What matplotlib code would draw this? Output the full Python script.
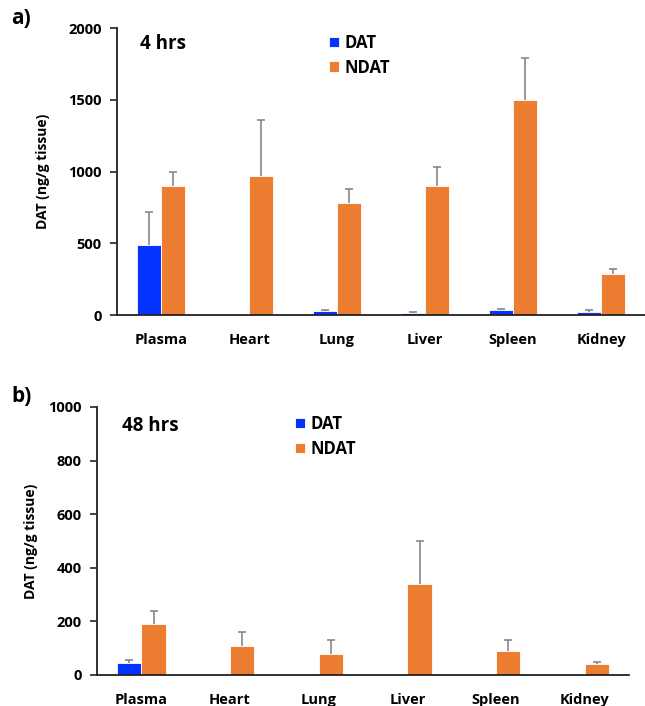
import matplotlib
matplotlib.use("Agg")
import matplotlib.pyplot as plt
import numpy as np

tissues = ["Plasma", "Heart", "Lung", "Liver", "Spleen", "Kidney"]

# 4 hrs
dat_4h = [485, 3, 28, 14, 33, 21]
dat_4h_err = [230, 0, 7, 7, 11, 14]
ndat_4h = [900, 970, 780, 900, 1500, 288]
ndat_4h_err = [100, 390, 100, 130, 290, 33]

# 48 hrs
dat_48h = [44, 2, 1, 0, 0, 0]
dat_48h_err = [13, 0, 0, 0, 0, 0]
ndat_48h = [189, 110, 80, 340, 90, 40]
ndat_48h_err = [51, 49, 51, 159, 41, 10]

plt.rcParams['font.family'] = ['Open Sans', 'DejaVu Sans']
plt.rcParams['font.weight'] = 'bold'

blue = '#0433FF'
orange = '#ED7D31'
W, H = 645, 706

fig = plt.figure(figsize=(W / 100, H / 100), dpi=100)


def up_err(ax, xs, ys, errs):
    # only the upper half of the error bar, as in the original
    xs, ys, errs = np.asarray(xs), np.asarray(ys), np.asarray(errs)
    keep = errs > 0
    eb = ax.errorbar(xs[keep], ys[keep], yerr=[np.zeros(keep.sum()), errs[keep]],
                     fmt='none', ecolor='#7f7f7f', elinewidth=1.1, capsize=3,
                     capthick=1.1, zorder=3)
    eb.lines[1][0].set_visible(False)


def panel(rect, dat, dat_err, ndat, ndat_err, ymax, step, title, title_xy, leg_xy,
          tag, tag_xy, ylab_x, xpad):
    ax = fig.add_axes([rect[0] / W, 1 - rect[3] / H, (rect[2] - rect[0]) / W,
                       (rect[3] - rect[1]) / H])
    x = np.arange(len(tissues))
    bw = 0.275
    ax.bar(x - bw / 2, dat, bw, color=blue, edgecolor='white', linewidth=0.6, label='DAT')
    ax.bar(x + bw / 2, ndat, bw, color=orange, edgecolor='white', linewidth=0.6, label='NDAT')
    up_err(ax, x - bw / 2, dat, dat_err)
    up_err(ax, x + bw / 2, ndat, ndat_err)
    ax.set_xlim(-0.5, len(tissues) - 0.5)
    ax.set_ylim(0, ymax)
    ax.set_yticks(np.arange(0, ymax + 1, step))
    ax.set_xticks(x)
    ax.set_xticklabels(tissues, fontsize=10.5, fontweight='bold')
    ax.tick_params(axis='x', length=0, pad=xpad)
    ax.tick_params(axis='y', length=5, width=1.2, labelsize=10.5, pad=6, color='#222222')
    for lbl in ax.get_yticklabels():
        lbl.set_fontweight('bold')
    for s in ['top', 'right']:
        ax.spines[s].set_visible(False)
    for s in ['left', 'bottom']:
        ax.spines[s].set_linewidth(1.3)
        ax.spines[s].set_color('#222222')
    ax.spines['left'].set_zorder(5)
    ax.set_ylabel('DAT (ng/g tissue)', fontsize=10, fontweight='bold')
    ax.yaxis.set_label_coords((ylab_x - rect[0]) / (rect[2] - rect[0]), 0.5)
    fig.text(title_xy[0] / W, 1 - title_xy[1] / H, title, fontsize=13.5,
             fontweight='bold', va='center', ha='left')
    ax.legend(loc='upper left',
              bbox_to_anchor=((leg_xy[0] - rect[0]) / (rect[2] - rect[0]),
                              1 - (leg_xy[1] - rect[1]) / (rect[3] - rect[1])),
              frameon=False, handlelength=0.6, handleheight=0.6,
              handletextpad=0.35, labelspacing=0.4, borderaxespad=0, borderpad=0,
              prop={'weight': 'bold', 'size': 12})
    fig.text(tag_xy[0] / W, 1 - tag_xy[1] / H, tag, fontsize=15, fontweight='bold',
             va='center', ha='left')
    return ax


panel((117, 28, 645, 315), dat_4h, dat_4h_err, ndat_4h, ndat_4h_err, 2000, 500,
      '4 hrs', (140, 44), (329, 34), 'a)', (11, 19), 50, 13)
panel((97, 407, 629, 675), dat_48h, dat_48h_err, ndat_48h, ndat_48h_err, 1000, 200,
      '48 hrs', (122, 426), (295, 415), 'b)', (11, 397), 38, 13)

fig.savefig('out.png', dpi=100)
